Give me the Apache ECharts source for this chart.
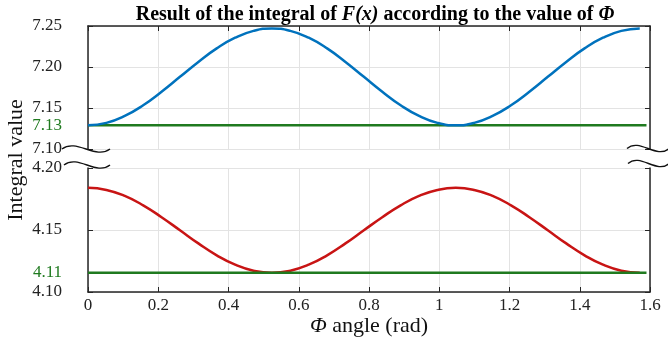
<!DOCTYPE html>
<html>
<head>
<meta charset="utf-8">
<script src="https://cdn.jsdelivr.net/npm/echarts@6/dist/echarts.min.js"></script>
<style>
  html, body { margin: 0; padding: 0; background: #fff; }
  #chart { width: 668px; height: 341px; }
</style>
</head>
<body>
<div id="chart"></div>
<script>
// angle values (rad)
var phi = [0, 0.0524, 0.1047, 0.1571, 0.2094, 0.2618, 0.3142, 0.3665, 0.4189, 0.4712, 0.5236,
  0.5760, 0.6283, 0.6807, 0.7330, 0.7854, 0.8378, 0.8901, 0.9425, 0.9948, 1.0472,
  1.0996, 1.1519, 1.2043, 1.2566, 1.3090, 1.3614, 1.4137, 1.4661, 1.5184, 1.5708]
// upper curve (blue)
var upperVals = [7.1290, 7.1319, 7.1403, 7.1533, 7.1698, 7.1880, 7.2062, 7.2227, 7.2357, 7.2441, 7.2470,
  7.2441, 7.2357, 7.2227, 7.2062, 7.1880, 7.1698, 7.1533, 7.1403, 7.1319, 7.1290,
  7.1319, 7.1403, 7.1533, 7.1698, 7.1880, 7.2062, 7.2227, 7.2357, 7.2441, 7.2470]
// lower curve (red)
var lowerVals = [4.1840, 4.1823, 4.1775, 4.1699, 4.1603, 4.1498, 4.1392, 4.1296, 4.1220, 4.1172, 4.1155,
  4.1172, 4.1220, 4.1296, 4.1392, 4.1498, 4.1603, 4.1699, 4.1775, 4.1823, 4.1840,
  4.1823, 4.1775, 4.1699, 4.1603, 4.1498, 4.1392, 4.1296, 4.1220, 4.1172, 4.1155]
// reference levels (green) and their labels
var upperRef = 7.129
var lowerRef = 4.1155
var upperRefLabel = '7.13'
var lowerRefLabel = '4.11'
var refSpan = [0, 1.59]
// tick labels
var upperTicks = [7.10, upperRef, 7.15, 7.20, 7.25]
var lowerTicks = [4.10, lowerRef, 4.15, 4.20]

var serif = '"Liberation Serif", "Times New Roman", serif'
var axisColor = '#262626'
var gridColor = '#e3e3e3'
var green = '#1f7a1f'

function pairs (xs, ys) {
  return xs.map(function (x, i) { return [x, ys[i]] })
}
function yLabel (refVal, refText) {
  return function (v) {
    if (Math.abs(v - refVal) < 1e-6) return '{g|' + refText + '}'
    return v.toFixed(2)
  }
}

var dom = echarts.init(document.getElementById('chart'))

var xBase = {
  type: 'value',
  min: 0,
  max: 1.6,
  interval: 0.2,
  axisLine: { show: true, lineStyle: { color: axisColor, width: 1.5 } },
  axisTick: { show: true, inside: true, length: 5, lineStyle: { color: axisColor } },
  splitLine: { show: true, lineStyle: { color: gridColor, width: 1 } }
}
function yAxisFor (gi, min, max, ticks, refVal, refText, right) {
  return {
    type: 'value',
    gridIndex: gi,
    position: right ? 'right' : 'left',
    min: min,
    max: max,
    interval: 0.05,
    axisLine: { show: true, lineStyle: { color: axisColor, width: 1.5 } },
    axisTick: { show: true, inside: true, length: 5, lineStyle: { color: axisColor } },
    splitLine: { show: !right, lineStyle: { color: gridColor, width: 1 } },
    axisLabel: right ? { show: false } : {
      show: true,
      customValues: ticks,
      margin: 26,
      color: '#222',
      fontFamily: serif,
      fontSize: 17,
      formatter: yLabel(refVal, refText),
      rich: { g: { color: green, fontFamily: serif, fontSize: 17 } }
    }
  }
}

function tilde (x, c, w) {
  return {
    type: 'bezierCurve',
    shape: { x1: x, y1: c, cpx1: x + w * 0.3, cpy1: c - 11, cpx2: x + w * 0.7, cpy2: c + 11, x2: x + w, y2: c },
    style: { stroke: '#111', lineWidth: 1.4, fill: null },
    z: 100
  }
}

var option = {
  animation: false,
  title: {
    text: '{b|Result of the integral of }{bi|F(x)}{b| according to the value of }{bi|Φ}',
    left: 370,
    textAlign: 'center',
    top: 0,
    textStyle: {
      rich: {
        b: { fontFamily: serif, fontWeight: 'bold', fontSize: 20, color: '#000' },
        bi: { fontFamily: serif, fontWeight: 'bold', fontStyle: 'italic', fontSize: 20, color: '#000' }
      }
    }
  },
  grid: [
    { left: 88, right: 18, top: 26, height: 123 },
    { left: 88, right: 18, top: 168, height: 124 }
  ],
  xAxis: [
    Object.assign({}, xBase, { gridIndex: 0, position: 'top', axisLabel: { show: false } }),
    Object.assign({}, xBase, {
      gridIndex: 1,
      position: 'bottom',
      axisLabel: { show: true, margin: 5, color: '#222', fontFamily: serif, fontSize: 17 },
      name: '{i|Φ} angle (rad)',
      nameLocation: 'middle',
      nameGap: 21,
      nameTextStyle: {
        fontFamily: serif,
        fontSize: 22,
        color: '#111',
        rich: { i: { fontFamily: serif, fontStyle: 'italic', fontSize: 22, color: '#111' } }
      }
    })
  ],
  yAxis: [
    yAxisFor(0, 7.10, 7.25, upperTicks, upperRef, upperRefLabel, false),
    yAxisFor(0, 7.10, 7.25, upperTicks, upperRef, upperRefLabel, true),
    yAxisFor(1, 4.10, 4.20, lowerTicks, lowerRef, lowerRefLabel, false),
    yAxisFor(1, 4.10, 4.20, lowerTicks, lowerRef, lowerRefLabel, true)
  ],
  graphic: [
    {
      type: 'text',
      x: 16,
      y: 160,
      rotation: Math.PI / 2,
      style: {
        text: 'Integral value',
        fontFamily: serif,
        fontSize: 22,
        fill: '#111',
        align: 'center',
        verticalAlign: 'middle'
      }
    },
    tilde(62, 149, 48),
    tilde(64, 165, 46),
    tilde(627, 148.5, 42),
    tilde(628, 163.5, 41)
  ],
  series: [
    {
      type: 'line',
      xAxisIndex: 0,
      yAxisIndex: 0,
      data: pairs(refSpan, [upperRef, upperRef]),
      symbol: 'none',
      lineStyle: { color: green, width: 2.5 }
    },
    {
      type: 'line',
      xAxisIndex: 0,
      yAxisIndex: 0,
      data: pairs(phi, upperVals),
      smooth: 0.5,
      symbol: 'none',
      lineStyle: { color: '#0072BD', width: 2.5 }
    },
    {
      type: 'line',
      xAxisIndex: 1,
      yAxisIndex: 2,
      data: pairs(phi, lowerVals),
      smooth: 0.5,
      symbol: 'none',
      lineStyle: { color: '#C81414', width: 2.5 }
    },
    {
      type: 'line',
      xAxisIndex: 1,
      yAxisIndex: 2,
      data: pairs(refSpan, [lowerRef, lowerRef]),
      symbol: 'none',
      lineStyle: { color: green, width: 2.5 }
    }
  ]
}
dom.setOption(option)
</script>
</body>
</html>
